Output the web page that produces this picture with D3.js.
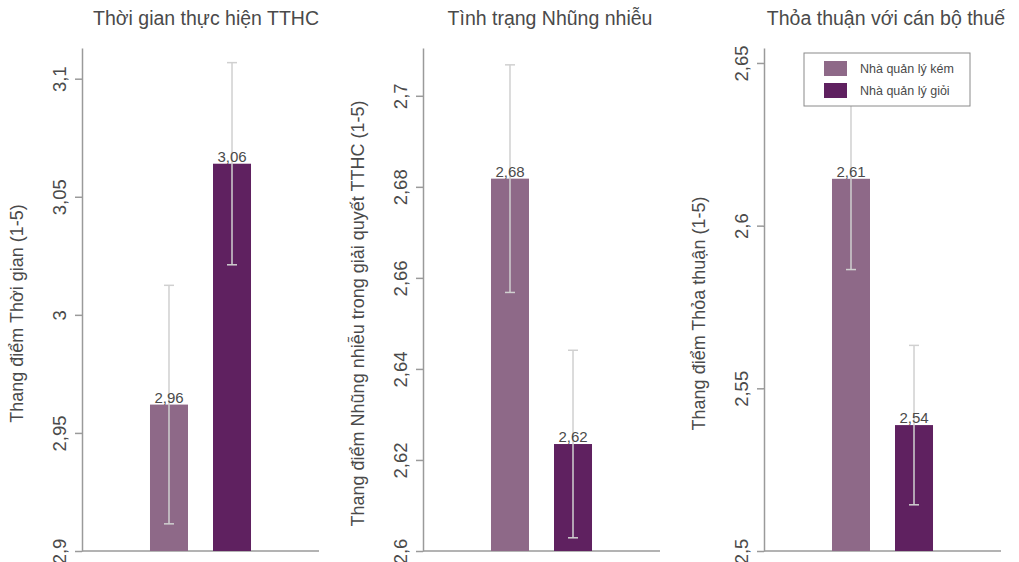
<!DOCTYPE html>
<html><head><meta charset="utf-8">
<script src="https://cdn.jsdelivr.net/npm/d3@7"></script>
<style>body{margin:0;background:#fff}svg{display:block;font-family:"Liberation Sans",Arial,sans-serif}</style>
</head><body><svg id="c" width="1019" height="562"></svg>
<script>
const categories = ["Nhà quản lý kém", "Nhà quản lý giỏi"];
const titles = ["Thời gian thực hiện TTHC", "Tình trạng Nhũng nhiễu", "Thỏa thuận với cán bộ thuế"];
const yTitles = ["Thang điểm Thời gian (1-5)", "Thang điểm Nhũng nhiễu trong giải quyết TTHC (1-5)", "Thang điểm Thỏa thuận (1-5)"];
const meansTime = [2.962, 3.064];
const errTime = [0.0505, 0.0428];
const meansHarass = [2.6818, 2.6235];
const errHarass = [0.025, 0.0206];
const meansDeal = [2.6144, 2.5387];
const errDeal = [0.0279, 0.0245];
const domainTime = [2.9, 3.113];
const domainHarass = [2.6, 2.7105];
const domainDeal = [2.5, 2.6546];
const ticksTime = [2.9, 2.95, 3, 3.05, 3.1];
const ticksHarass = [2.6, 2.62, 2.64, 2.66, 2.68, 2.7];
const ticksDeal = [2.5, 2.55, 2.6, 2.65];
const colors = ["#8e6988", "#5f2160"];

const panels = [
  {title: titles[0], yTitle: yTitles[0], means: meansTime, errs: errTime, domain: domainTime, ticks: ticksTime, x0: 82, titleX: 206},
  {title: titles[1], yTitle: yTitles[1], means: meansHarass, errs: errHarass, domain: domainHarass, ticks: ticksHarass, x0: 423, titleX: 550},
  {title: titles[2], yTitle: yTitles[2], means: meansDeal, errs: errDeal, domain: domainDeal, ticks: ticksDeal, x0: 764, titleX: 886}
];

const loc = d3.formatLocale({decimal: ",", thousands: ".", grouping: [3], currency: ["", ""]});
const fTick = loc.format("~g");
const fVal = loc.format(".2f");

const svg = d3.select("#c");
const yTop = 48, yBot = 551, panelW = 237;
const axisCol = "#9a9a9a", textCol = "#4a4a4a";

panels.forEach(p => {
  const g = svg.append("g");
  const x = d3.scaleBand().domain(categories).range([p.x0, p.x0 + panelW]).paddingInner(0.397).paddingOuter(1.079);
  const y = d3.scaleLinear().domain(p.domain).range([yBot, yTop]);

  // title
  g.append("text").attr("x", p.titleX).attr("y", 25).attr("text-anchor", "middle")
    .attr("font-size", 19.5).attr("fill", textCol).text(p.title);

  // y axis
  const ya = g.append("g").attr("transform", `translate(${p.x0},0)`)
    .call(d3.axisLeft(y).tickValues(p.ticks).tickFormat(fTick).tickSize(7).tickSizeOuter(0));
  ya.select(".domain").attr("stroke", axisCol).attr("stroke-width", 1.5);
  ya.selectAll(".tick line").attr("stroke", axisCol).attr("stroke-width", 1.5);
  ya.selectAll(".tick text").attr("font-size", 18.5).attr("fill", textCol)
    .attr("x", null).attr("dy", null).attr("text-anchor", "middle")
    .attr("transform", "translate(-16,0) rotate(-90)");

  // x axis baseline
  g.append("line").attr("x1", p.x0).attr("x2", p.x0 + panelW).attr("y1", yBot).attr("y2", yBot)
    .attr("stroke", axisCol).attr("stroke-width", 1.5);

  // y title
  g.append("text").attr("transform", `translate(${p.x0 - 59},${(yTop + yBot) / 2 + 14}) rotate(-90)`)
    .attr("text-anchor", "middle").attr("font-size", 18).attr("fill", textCol).text(p.yTitle);

  // bars
  categories.forEach((c, i) => {
    g.append("rect").attr("x", x(c)).attr("width", x.bandwidth())
      .attr("y", y(p.means[i])).attr("height", yBot - y(p.means[i])).attr("fill", colors[i]);
  });
  // error bars
  categories.forEach((c, i) => {
    const cx = x(c) + x.bandwidth() / 2;
    const hi = y(p.means[i] + p.errs[i]), lo = y(p.means[i] - p.errs[i]);
    const eg = g.append("g").attr("stroke", "#d0d0d0").attr("stroke-width", 1.5);
    eg.append("line").attr("x1", cx).attr("x2", cx).attr("y1", hi).attr("y2", lo);
    eg.append("line").attr("x1", cx - 5).attr("x2", cx + 5).attr("y1", hi).attr("y2", hi);
    eg.append("line").attr("x1", cx - 5).attr("x2", cx + 5).attr("y1", lo).attr("y2", lo);
  });
  // value labels
  categories.forEach((c, i) => {
    g.append("text").attr("x", x(c) + x.bandwidth() / 2).attr("y", y(p.means[i]) - 2)
      .attr("text-anchor", "middle").attr("font-size", 15).attr("fill", textCol).text(fVal(p.means[i]));
  });
});

// legend
const lg = svg.append("g").attr("transform", "translate(804,53)");
lg.append("rect").attr("width", 166).attr("height", 53).attr("fill", "#fff").attr("stroke", "#8a8a8a").attr("stroke-width", 1);
categories.forEach((c, i) => {
  lg.append("rect").attr("x", 20).attr("y", 8 + i * 22).attr("width", 23).attr("height", 15).attr("fill", colors[i]);
  lg.append("text").attr("x", 56).attr("y", 20 + i * 22).attr("font-size", 12.5).attr("fill", textCol).text(c);
});
</script></body></html>
